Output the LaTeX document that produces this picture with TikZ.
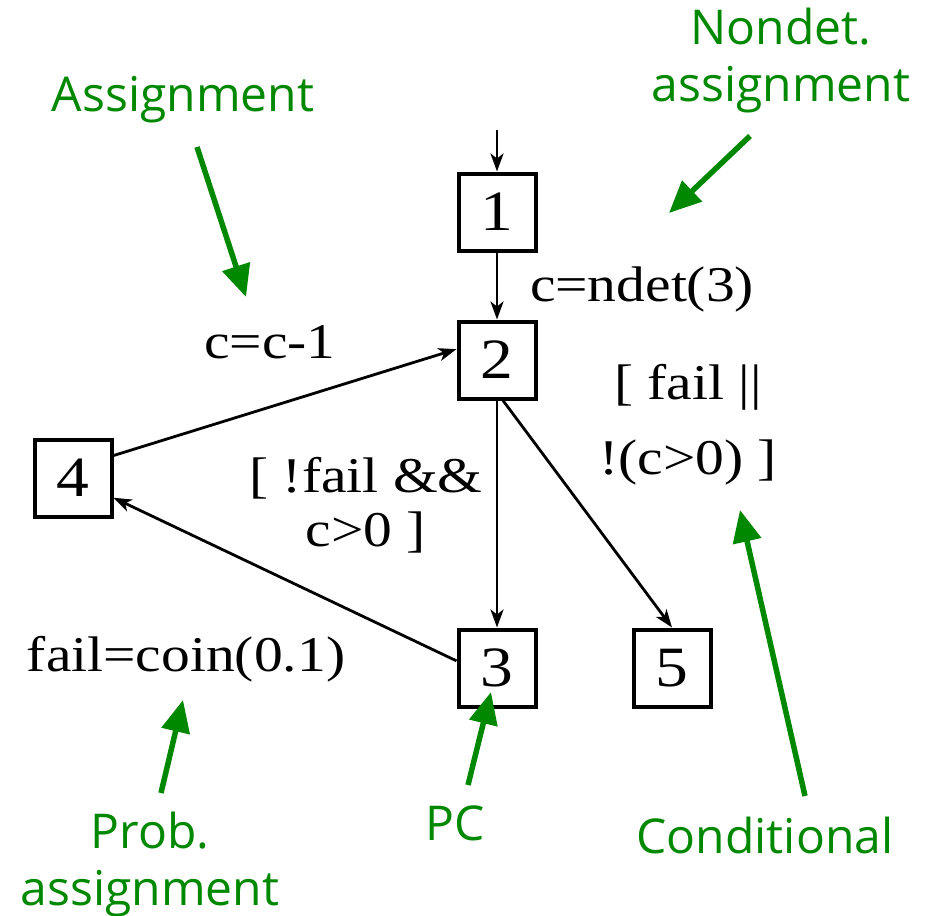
\documentclass[tikz,border=0pt]{standalone}
\usepackage{fontspec}
\setmainfont{Liberation Serif}
\newfontfamily\gfont{Open Sans}
\usetikzlibrary{arrows.meta}
\definecolor{gcol}{RGB}{0,136,0}
\newcommand\stx[1]{\scalebox{1.15}[1]{#1}}
\begin{document}
\begin{tikzpicture}[x=1pt,y=-1pt,
  box/.style={draw, line width=4pt, minimum size=77pt, inner sep=0pt, font=\fontsize{57}{60}\selectfont},
  edge/.style={line width=2.8pt, -{Stealth[length=18pt,width=13pt,inset=5pt]}},
  lbl/.style={inner sep=0pt, align=center, anchor=base},
  glbl/.style={text=gcol, inner sep=0pt, align=center, anchor=base, font=\gfont\fontsize{48}{57}\selectfont},
  garrow/.style={draw=gcol, line width=5.5pt, -{Triangle[length=32pt,width=28pt]}}]
\useasboundingbox (0,0) rectangle (928,915);

% state boxes
\node[box] (n1) at (497,212) {\stx{1}};
\node[box] (n2) at (497,360) {\stx{2}};
\node[box] (n3) at (497,668) {\stx{3}};
\node[box] (n4) at (73,478) {\stx{4}};
\node[box] (n5) at (672,668) {\stx{5}};
\coordinate (init) at (497,130);

% edges
\draw[edge] (init) -- (n1);
\draw[edge] (n1) -- (n2);
\draw[edge] (n2) -- (n3);
\draw[edge] ([xshift=6pt]n2.south) -- (n5.north);
\draw[edge] (n4.29) -- (n2.165);
\draw[edge] (n3.170) -- (n4.-26);

% edge labels (base = baseline of last line)
\node[lbl, font=\fontsize{50}{54}\selectfont] (lndet) at (642,301) {\stx{c=ndet(3)}};
\node[lbl, font=\fontsize{50}{54}\selectfont] (lcc) at (270,358) {\stx{c=c-1}};
\node[lbl, font=\fontsize{50}{54}\selectfont] (lguard) at (366,546) {\stx{[ !fail \&\&}\\\stx{c>0 ]}};
\node[lbl, font=\fontsize{50}{75}\selectfont] (lexit) at (688,474) {\stx{[ fail ||}\\\stx{!(c>0) ]}};
\node[lbl, font=\fontsize{50}{54}\selectfont] (lcoin) at (186,671) {\stx{fail=coin(0.1)}};

% green annotations
\node[glbl] (tassign) at (183,112) {Assignment};
\node[glbl] (tndet) at (781,102) {Nondet.\\assignment};
\node[glbl] (tprob) at (150,905) {Prob.\\assignment};
\node[glbl] (tpc) at (455,840) {PC};
\node[glbl] (tcond) at (765,853) {Conditional};

\coordinate (a1s) at (197,147); \coordinate (a1e) at (246,297);
\coordinate (a2s) at (750,136); \coordinate (a2e) at (669,213);
\coordinate (a3s) at (805,796); \coordinate (a3e) at (740,510);
\coordinate (a4s) at (468,785); \coordinate (a4e) at (491,692);
\coordinate (a5s) at (161,793); \coordinate (a5e) at (183,700);
\draw[garrow] (a1s) -- (a1e);
\draw[garrow] (a2s) -- (a2e);
\draw[garrow] (a3s) -- (a3e);
\draw[garrow] (a4s) -- (a4e);
\draw[garrow] (a5s) -- (a5e);
\end{tikzpicture}
\end{document}
